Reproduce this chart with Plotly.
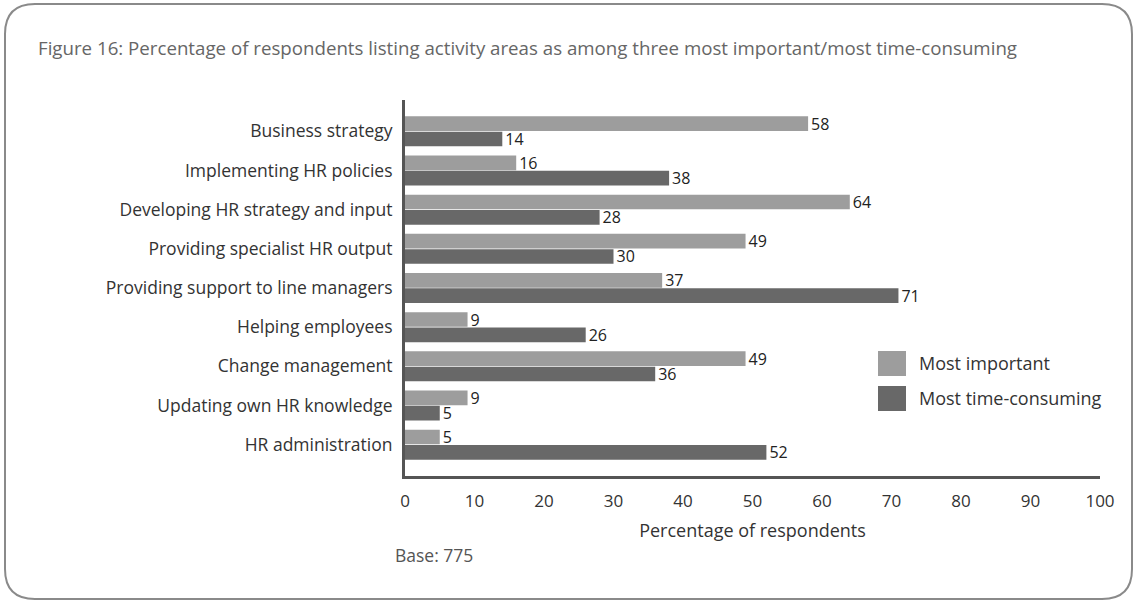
import plotly.graph_objects as go

categories = [
    "Business strategy",
    "Implementing HR policies",
    "Developing HR strategy and input",
    "Providing specialist HR output",
    "Providing support to line managers",
    "Helping employees",
    "Change management",
    "Updating own HR knowledge",
    "HR administration",
]
most_important = [58, 16, 64, 49, 37, 9, 49, 9, 5]
most_time_consuming = [14, 38, 28, 30, 71, 26, 36, 5, 52]
x_ticks = [0, 10, 20, 30, 40, 50, 60, 70, 80, 90, 100]

LIGHT = "#9d9d9d"
DARK = "#686868"
FONT = "Open Sans, Noto Sans, sans-serif"

W, H = 1134, 602
L, R, T, B = 405, 34, 100, 126
PW, PH = W - L - R, H - T - B


def px(x):
    return (x - L) / PW


def py(y):
    return (H - B - y) / PH


fig = go.Figure()
fig.add_trace(go.Bar(
    y=categories, x=most_important, orientation="h", name="Most important",
    marker=dict(color=LIGHT, line=dict(width=0)),
    text=most_important, textposition="outside", cliponaxis=False,
    constraintext="none",
    textfont=dict(size=16, color="#222222", family=FONT),
))
fig.add_trace(go.Bar(
    y=categories, x=most_time_consuming, orientation="h", name="Most time-consuming",
    marker=dict(color=DARK, line=dict(width=0)),
    text=most_time_consuming, textposition="outside", cliponaxis=False,
    constraintext="none",
    textfont=dict(size=16, color="#222222", family=FONT),
))

shapes = []
# rounded border
x0, y0, x1, y1, r = 5, 4, 1132, 599, 30
path = (f"M {px(x0 + r)},{py(y0)} L {px(x1 - r)},{py(y0)} "
        f"Q {px(x1)},{py(y0)} {px(x1)},{py(y0 + r)} "
        f"L {px(x1)},{py(y1 - r)} Q {px(x1)},{py(y1)} {px(x1 - r)},{py(y1)} "
        f"L {px(x0 + r)},{py(y1)} Q {px(x0)},{py(y1)} {px(x0)},{py(y1 - r)} "
        f"L {px(x0)},{py(y0 + r)} Q {px(x0)},{py(y0)} {px(x0 + r)},{py(y0)} Z")
shapes.append(dict(type="path", xref="paper", yref="paper", path=path,
                   line=dict(color="#8a8a8a", width=2), layer="below"))
# legend swatches
shapes.append(dict(type="rect", xref="paper", yref="paper",
                   x0=px(878), x1=px(906), y0=py(351), y1=py(376),
                   fillcolor=LIGHT, line=dict(width=0)))
shapes.append(dict(type="rect", xref="paper", yref="paper",
                   x0=px(878), x1=px(906), y0=py(386), y1=py(411),
                   fillcolor=DARK, line=dict(width=0)))

annotations = [
    dict(text="Figure 16: Percentage of respondents listing activity areas as among three most important/most time-consuming",
         xref="paper", yref="paper", x=px(36), y=py(47), xanchor="left", yanchor="middle",
         showarrow=False, font=dict(size=18.7, color="#666666", family=FONT)),
    dict(text="Most important", xref="paper", yref="paper", x=px(917), y=py(363),
         xanchor="left", yanchor="middle", showarrow=False,
         font=dict(size=18, color="#333333", family=FONT)),
    dict(text="Most time-consuming", xref="paper", yref="paper", x=px(917), y=py(398),
         xanchor="left", yanchor="middle", showarrow=False,
         font=dict(size=18, color="#333333", family=FONT)),
    dict(text="Base: 775", xref="paper", yref="paper", x=px(393), y=py(555),
         xanchor="left", yanchor="middle", showarrow=False,
         font=dict(size=17.5, color="#555555", family=FONT)),
]

fig.update_layout(
    width=W, height=H,
    margin=dict(l=L, r=R, t=T, b=B, pad=0),
    paper_bgcolor="white", plot_bgcolor="white",
    barmode="group", bargap=0.22, bargroupgap=0.04,
    showlegend=False,
    shapes=shapes, annotations=annotations,
    font=dict(family=FONT, color="#333333"),
    xaxis=dict(range=[0, 100], tickvals=x_ticks, showgrid=False, zeroline=False,
               showline=True, linecolor="#555555", linewidth=3,
               ticks="outside", ticklen=8, tickcolor="rgba(0,0,0,0)",
               tickfont=dict(size=17, color="#333333"),
               title=dict(text="Percentage of respondents", standoff=13,
                          font=dict(size=18, color="#333333"))),
    yaxis=dict(range=[8.8, -0.8], showgrid=False, zeroline=False,
               showline=True, linecolor="#555555", linewidth=3,
               ticks="outside", ticklen=6, tickcolor="rgba(0,0,0,0)",
               tickfont=dict(size=17.5, color="#333333")),
)

fig.write_html("out.html")
